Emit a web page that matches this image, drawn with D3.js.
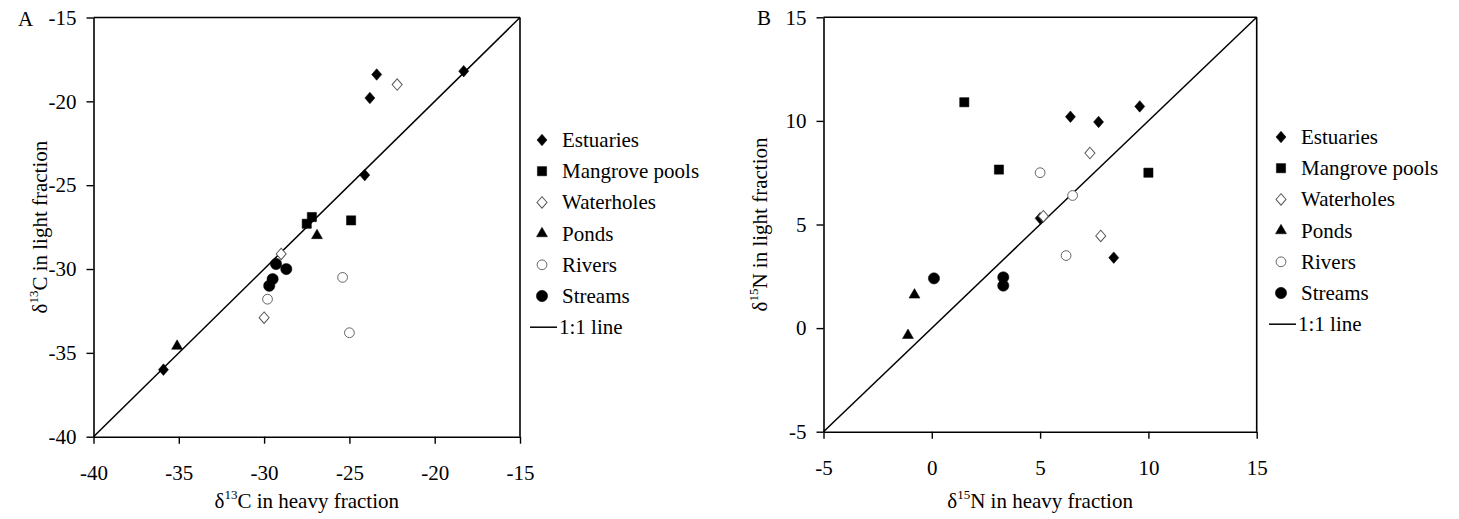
<!DOCTYPE html>
<html>
<head>
<meta charset="utf-8">
<script src="https://cdn.jsdelivr.net/npm/d3@7"></script>
<style>
body { margin: 0; background: #fff; }
svg text { font-family: "Liberation Serif", "Times New Roman", serif; fill: #000; }
</style>
</head>
<body>
<div id="chart"></div>
<script>
// setup

var w = 1459
var h = 519
var fs = "21px"

var svg = d3.select("#chart")
    .append("svg")
    .attr("width", w)
    .attr("height", h)

// data

var groups = ["Estuaries", "Mangrove pools", "Waterholes", "Ponds", "Rivers", "Streams"]

// carbon, [heavy, light]
var carbonEstuaries = [[-23.4, -18.4], [-23.8, -19.8], [-24.1, -24.4], [-18.3, -18.2], [-35.9, -36.0]]
var carbonMangrove = [[-27.5, -27.3], [-27.2, -26.9], [-24.9, -27.1]]
var carbonWaterholes = [[-22.2, -19.0], [-29.0, -29.1], [-30.0, -32.9]]
var carbonPonds = [[-26.9, -28.0], [-35.1, -34.6]]
var carbonRivers = [[-25.4, -30.5], [-25.0, -33.8], [-29.8, -31.8]]
var carbonStreams = [[-29.3, -29.7], [-28.7, -30.0], [-29.5, -30.6], [-29.7, -31.0]]

// nitrogen, [heavy, light]
var nitrogenEstuaries = [[6.4, 10.2], [7.7, 9.95], [9.6, 10.7], [5.0, 5.3], [8.4, 3.4]]
var nitrogenMangrove = [[1.5, 10.9], [3.1, 7.65], [10.0, 7.5]]
var nitrogenWaterholes = [[7.3, 8.45], [5.15, 5.4], [7.8, 4.45]]
var nitrogenPonds = [[-0.8, 1.6], [-1.1, -0.35]]
var nitrogenRivers = [[5.0, 7.5], [6.5, 6.4], [6.2, 3.5]]
var nitrogenStreams = [[0.1, 2.4], [3.3, 2.45], [3.3, 2.05]]

var carbonTicks = [-40, -35, -30, -25, -20, -15]
var nitrogenTicks = [-5, 0, 5, 10, 15]

var carbonSets = [carbonEstuaries, carbonMangrove, carbonWaterholes, carbonPonds, carbonRivers, carbonStreams]
var nitrogenSets = [nitrogenEstuaries, nitrogenMangrove, nitrogenWaterholes, nitrogenPonds, nitrogenRivers, nitrogenStreams]

// marker styles per group
var shapes = [d3.symbolDiamond2, d3.symbolSquare, d3.symbolDiamond2, d3.symbolTriangle, d3.symbolCircle, d3.symbolCircle]
var sizes = [64, 85, 64, 52, 75, 100]
var filled = [true, true, false, true, false, true]

function marker(g, i, x, y) {
    g.append("path")
        .attr("d", d3.symbol().type(shapes[i]).size(sizes[i])())
        .attr("transform", "translate(" + x + "," + y + ")" + (i == 0 || i == 2 ? " scale(1,1.15)" : ""))
        .attr("fill", filled[i] ? "#000" : "#fff")
        .attr("stroke", filled[i] ? "#000" : "#555")
        .attr("stroke-width", filled[i] ? 0.5 : 0.9)
}

// draw one panel

function drawPanel(opt) {
    var x = d3.scaleLinear().domain(opt.domain).range([opt.left, opt.right])
    var y = d3.scaleLinear().domain(opt.domain).range([opt.bottom, opt.top])

    var g = svg.append("g")

    // frame lines top and right
    g.append("line")
        .attr("x1", opt.left).attr("x2", opt.right)
        .attr("y1", opt.top).attr("y2", opt.top)
        .attr("stroke", "#000").attr("stroke-width", 1.6)
    g.append("line")
        .attr("x1", opt.right).attr("x2", opt.right)
        .attr("y1", opt.top).attr("y2", opt.bottom)
        .attr("stroke", "#000").attr("stroke-width", 1.6)

    var xAxis = g.append("g")
        .attr("transform", "translate(0," + opt.bottom + ")")
        .call(d3.axisBottom(x).tickValues(opt.ticks).tickSize(7).tickSizeOuter(0).tickFormat(d3.format("d")))
    var yAxis = g.append("g")
        .attr("transform", "translate(" + opt.left + ",0)")
        .call(d3.axisLeft(y).tickValues(opt.ticks).tickSize(7).tickSizeOuter(0).tickFormat(d3.format("d")))

    ;[xAxis, yAxis].forEach(function(a) {
        a.select(".domain").attr("stroke-width", 1.6)
        a.selectAll(".tick line").attr("stroke-width", 1.4)
        a.selectAll(".tick text").style("font-size", fs)
            .style("font-family", "'Liberation Serif', serif")
            .text(function(d) { return d < 0 ? "-" + Math.abs(d) : d })
    })
    xAxis.selectAll(".tick text").attr("y", 43).attr("dy", 0)
    yAxis.selectAll(".tick text").attr("x", -17)

    // 1:1 line
    g.append("line")
        .attr("x1", x(opt.domain[0])).attr("y1", y(opt.domain[0]))
        .attr("x2", x(opt.domain[1])).attr("y2", y(opt.domain[1]))
        .attr("stroke", "#000").attr("stroke-width", 1.5)

    // points
    opt.sets.forEach(function(set, i) {
        set.forEach(function(d) {
            marker(g, i, x(d[0]), y(d[1]))
        })
    })

    // panel letter
    g.append("text")
        .attr("x", opt.letterX).attr("y", opt.top + 8)
        .style("font-size", fs)
        .text(opt.letter)

    // axis titles
    var xt = g.append("text")
        .attr("x", (opt.left + opt.right) / 2).attr("y", 508)
        .attr("text-anchor", "middle")
        .style("font-size", fs)
    xt.append("tspan").text("\u03b4")
    xt.append("tspan").attr("dy", -9).style("font-size", "13px").text(opt.iso)
    xt.append("tspan").attr("dy", 9).text(opt.el + " in heavy fraction")

    var yt = g.append("text")
        .attr("transform", "translate(" + opt.yTitleX + "," + (opt.top + opt.bottom) / 2 + ") rotate(-90)")
        .attr("text-anchor", "middle")
        .style("font-size", fs)
    yt.append("tspan").text("\u03b4")
    yt.append("tspan").attr("dy", -9).style("font-size", "13px").text(opt.iso)
    yt.append("tspan").attr("dy", 9).text(opt.el + " in light fraction")

    // legend
    var lg = svg.append("g")
    groups.forEach(function(name, i) {
        var ly = opt.legendY + i * 31.2
        marker(lg, i, opt.legendX, ly)
        lg.append("text")
            .attr("x", opt.legendX + 20).attr("y", ly + 7)
            .style("font-size", fs)
            .text(name)
    })
    var ly = opt.legendY + 6 * 31.2
    lg.append("line")
        .attr("x1", opt.legendX - 12).attr("x2", opt.legendX + 15)
        .attr("y1", ly).attr("y2", ly)
        .attr("stroke", "#000").attr("stroke-width", 1.5)
    lg.append("text")
        .attr("x", opt.legendX + 17).attr("y", ly + 7)
        .style("font-size", fs)
        .text("1:1 line")
}

drawPanel({
    domain: [-40, -15], ticks: carbonTicks, sets: carbonSets,
    left: 93.5, right: 520, top: 17.5, bottom: 436.7,
    letter: "A", letterX: 18, yTitleX: 47,
    iso: "13", el: "C",
    legendX: 542, legendY: 140
})

drawPanel({
    domain: [-5, 15], ticks: nitrogenTicks, sets: nitrogenSets,
    left: 823.5, right: 1256.7, top: 17.3, bottom: 431.7,
    letter: "B", letterX: 757, yTitleX: 767,
    iso: "15", el: "N",
    legendX: 1281, legendY: 137
})
</script>
</body>
</html>
